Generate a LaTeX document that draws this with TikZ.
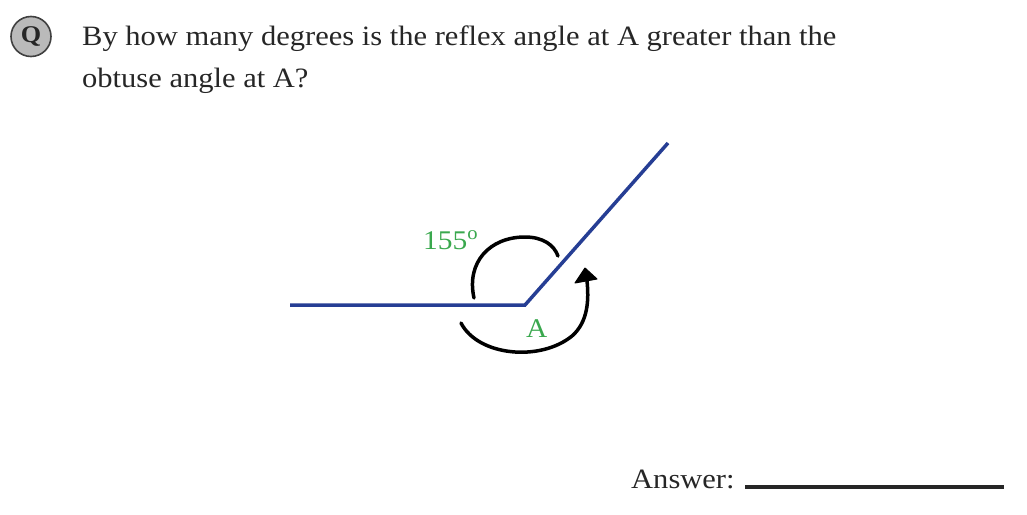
\documentclass[tikz,border=0pt]{standalone}
\usepackage{fontspec}
\setmainfont[FakeStretch=1.09]{Liberation Serif}
\usetikzlibrary{arrows.meta}
\definecolor{lineblue}{RGB}{38,62,148}
\definecolor{labgreen}{RGB}{58,168,78}
\definecolor{qgray}{RGB}{186,186,186}
\tikzset{
  qtext/.style={anchor=base west, inner sep=0pt, font=\fontsize{28}{34}\selectfont, text=black!85},
  glabel/.style={anchor=base west, inner sep=0pt, font=\fontsize{27}{30}\selectfont, text=labgreen},
  ray/.style={draw=lineblue, line width=3.5pt},
  turn/.style={draw=black, line width=3.5pt, line cap=round},
}
\begin{document}
\begin{tikzpicture}[x=1pt,y=-1pt]
\useasboundingbox (0,0) rectangle (1027,514);
% Q badge
\node[circle, draw=black!75, line width=1.6pt, fill=qgray, minimum size=40pt, inner sep=0pt,
      font=\bfseries\fontsize{24}{24}\selectfont, text=black!85] (q) at (31,36.5) {Q};
% question
\node[qtext] (l1) at (82,45) {By how many degrees is the reflex angle at A greater than the};
\node[qtext] (l2) at (82,87) {obtuse angle at A?};
% angle
\coordinate (L) at (290,305);
\coordinate (A) at (525,305);
\coordinate (R) at (668,143);
\draw[ray] (L) -- (A) -- (R);
% labels
\node[glabel] (deg) at (423,249) {155\textsuperscript{o}};
\node[glabel] (alab) at (526,337) {A};
% top arc (obtuse)
\coordinate (t1) at (474,298);
\coordinate (t2) at (558,256);
\draw[turn] (t1) .. controls (466,262) and (490,237) .. (525,237)
               .. controls (543,237) and (554,245) .. (t2);
% bottom arc (reflex) with arrow
\coordinate (b1) at (461,323);
\coordinate (b2) at (587,281);
\draw[turn] (b1) .. controls (478,356) and (540,362) .. (572,336)
               .. controls (588,322) and (589,300) .. (b2);
\coordinate (h1) at (585,268);
\coordinate (h2) at (575,283);
\coordinate (h3) at (597,279);
\fill[black, draw=black, line width=1pt, line join=round] (h1) -- (h2) -- (h3) -- cycle;
% answer
\node[qtext] (ans) at (631,488) {Answer:};
\coordinate (u1) at (745,487);
\coordinate (u2) at (1004,487);
\draw[line width=4pt, draw=black!85] (u1) -- (u2);
\end{tikzpicture}
\end{document}
